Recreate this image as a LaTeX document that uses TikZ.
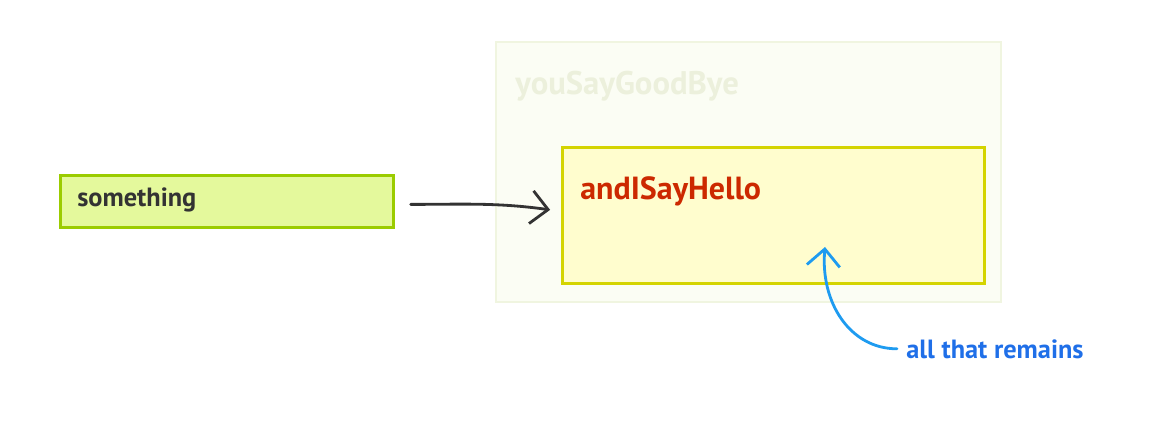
\documentclass[tikz,border=0pt]{standalone}
\usepackage{fontspec}
\setmainfont{PT Sans}
\usetikzlibrary{arrows.meta,positioning}
\usepackage{xcolor}
\definecolor{limefill}{HTML}{E4F99C}
\definecolor{limeline}{HTML}{9BCC00}
\definecolor{helloFill}{HTML}{FFFDCE}
\definecolor{helloLine}{HTML}{D4D400}
\definecolor{ghostFill}{HTML}{FBFDF4}
\definecolor{ghostLine}{HTML}{F0F5E0}
\definecolor{ghostText}{HTML}{ECF0DC}
\definecolor{helloText}{HTML}{CC2900}
\definecolor{inkGray}{HTML}{333333}
\definecolor{noteBlue}{HTML}{1E9BF0}
\definecolor{noteText}{HTML}{1F6FE8}

\begin{document}
\begin{tikzpicture}[
  x=0.02cm, y=-0.02cm,
  font=\bfseries\fontsize{15}{17}\selectfont,
  box/.style={draw, line width=1.6pt, anchor=north west, inner sep=0pt},
  tag/.style={anchor=base west, inner sep=0pt},
  arrow/.style={-{Straight Barb[length=3.4mm, width=6.6mm]}, line width=1.6pt, line cap=round}
]
\useasboundingbox (0,0) rectangle (1150,432);

% the three boxes
\node[box, draw=ghostLine, fill=ghostFill, line width=1pt,
      minimum width=10.1cm, minimum height=5.2cm] (goodbye) at (495,41) {};
\node[box, draw=helloLine, fill=helloFill,
      minimum width=8.44cm, minimum height=2.72cm] (hello) at (561,146) {};
\node[box, draw=limeline, fill=limefill,
      minimum width=6.66cm, minimum height=1.04cm] (something) at (59,174) {};

% texts
\node[tag, text=ghostText, font=\bfseries\fontsize{18.6}{21}\selectfont] (goodbyetxt) at (515,95) {youSayGoodBye};
\node[tag, text=helloText, font=\bfseries\fontsize{18.2}{21}\selectfont] (hellotxt) at (580,200) {andISayHello};
\node[tag, text=inkGray] (somethingtxt) at (77,207) {something};
\node[tag, text=noteText] (remains) at (906,358) {all that remains};

\coordinate (hellospot) at (825,247);

% arrows
\draw[arrow, inkGray, shorten <=0.32cm, shorten >=0.22cm]
  ([yshift=-0.06cm]something.east) to[out=0, in=172] ([yshift=0.08cm]hello.west);
\draw[arrow, noteBlue, shorten <=0.18cm]
  (remains.west) to[out=180, in=-95, looseness=1.1] (hellospot);

\end{tikzpicture}
\end{document}
